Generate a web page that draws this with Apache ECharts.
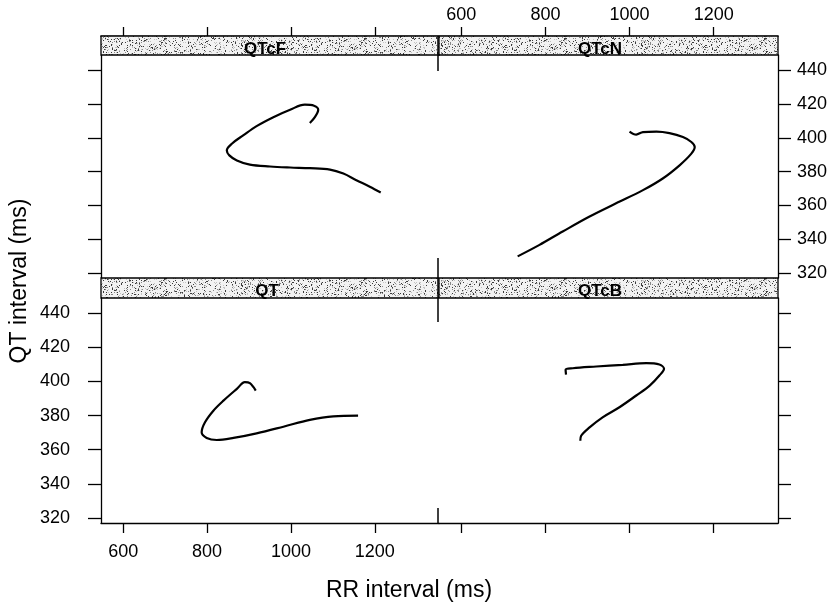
<!DOCTYPE html>
<html>
<head>
<meta charset="utf-8">
<script src="https://cdn.jsdelivr.net/npm/echarts@6/dist/echarts.min.js"></script>
<style>html,body{margin:0;padding:0;background:#fff}#c{width:832px;height:608px}</style>
</head>
<body>
<div id="c"></div>
<script>
// ---- data ----
const panelNames = ['QTcF', 'QTcN', 'QT', 'QTcB'];
const xTicks = [600, 800, 1000, 1200];
const yTicks = [320, 340, 360, 380, 400, 420, 440];

const qtcfRR = [1045, 1057, 1065, 1055, 1033, 998, 958, 918, 886, 859, 847, 853, 871, 902, 950, 998, 1045, 1093, 1125, 1156, 1188, 1214];
const qtcfQT = [408.8, 412.2, 416.6, 419.0, 419.6, 416.6, 412.2, 406.9, 401.4, 396.5, 392.5, 389.6, 386.6, 384.1, 383.0, 382.4, 382.0, 381.2, 378.8, 374.9, 371.0, 367.6];

const qtcnRR = [734, 786, 841, 905, 968, 1032, 1079, 1119, 1147, 1155, 1147, 1127, 1095, 1064, 1032, 1016, 1000];
const qtcnQT = [329.8, 336.6, 344.5, 353.4, 361.2, 369.0, 375.9, 383.7, 390.6, 394.5, 397.5, 400.4, 402.8, 403.7, 403.4, 401.9, 403.7];

const qtRR = [916, 902, 890, 871, 839, 815, 795, 787, 799, 823, 863, 918, 982, 1045, 1101, 1160];
const qtQT = [394.7, 399.0, 399.6, 395.7, 388.8, 382.9, 376.1, 370.2, 366.9, 365.7, 366.9, 369.6, 373.5, 377.5, 379.6, 380.0];

const qtcbRR = [849, 848, 865, 921, 984, 1040, 1071, 1082, 1071, 1048, 1016, 976, 936, 905, 885, 883];
const qtcbQT = [404.1, 406.9, 407.8, 408.8, 409.8, 410.8, 410.0, 407.5, 403.5, 397.6, 391.8, 384.9, 379.0, 373.1, 368.2, 365.3];

const xLabel = 'RR interval (ms)';
const yLabel = 'QT interval (ms)';

// ---- layout ----
const FONT = "'Liberation Sans', Arial, Helvetica, sans-serif";
const L = 101, M = 439, R = 778;
const stripH = 19;
const topStripY = 36, topPanelY = 55, topPanelH = 223;
const botStripY = 278, botPanelY = 298, botPanelH = 225;
const xMin = 547, xMax = 1353, yMin = 317, yMax = 449;

function zip(a, b) { return a.map((v, i) => [v, b[i]]); }

function stipple() {
  const c = document.createElement('canvas');
  c.width = 200; c.height = 24;
  const ctx = c.getContext('2d');
  ctx.fillStyle = '#f2f2f2';
  ctx.fillRect(0, 0, c.width, c.height);
  let s = 987654321;
  for (let y = 0; y < c.height; y++) {
    for (let x = 0; x < c.width; x++) {
      s = (s * 1103515245 + 12345) & 0x7fffffff;
      const r = s / 0x7fffffff;
      if (r < 0.20) {
        ctx.fillStyle = r < 0.07 ? '#3a3a3a' : (r < 0.13 ? '#888888' : '#c4c4c4');
        ctx.fillRect(x, y, 1, 1);
      }
    }
  }
  return c;
}
const pat = { image: stipple(), repeat: 'repeat' };

const grids = [
  { left: L, top: topPanelY, width: M - L, height: topPanelH },
  { left: M, top: topPanelY, width: R - M, height: topPanelH },
  { left: L, top: botPanelY, width: M - L, height: botPanelH },
  { left: M, top: botPanelY, width: R - M, height: botPanelH }
];

const lineStyle = { color: '#000', width: 1.3 };
const plain = function (v) { return String(v); };
function xAxis(i, pos, showLabel, offset, tickLen, margin) {
  return {
    type: 'value', gridIndex: i, position: pos, offset: offset,
    min: xMin, max: xMax,
    axisLine: { show: true, onZero: false, lineStyle: lineStyle },
    axisTick: { show: true, length: tickLen, customValues: xTicks, lineStyle: lineStyle },
    axisLabel: { show: showLabel, customValues: xTicks, formatter: plain, margin: margin, color: '#000', fontSize: 18, fontFamily: FONT },
    splitLine: { show: false }
  };
}
function yAxis(i, pos, showLabel, margin) {
  return {
    type: 'value', gridIndex: i, position: pos,
    min: yMin, max: yMax,
    axisLine: { show: true, onZero: false, lineStyle: lineStyle },
    axisTick: { show: true, length: 13, customValues: yTicks, lineStyle: lineStyle },
    axisLabel: { show: showLabel, customValues: yTicks, formatter: plain, margin: margin, color: '#000', fontSize: 18, fontFamily: FONT },
    splitLine: { show: false }
  };
}

const seriesData = [zip(qtcfRR, qtcfQT), zip(qtcnRR, qtcnQT), zip(qtRR, qtQT), zip(qtcbRR, qtcbQT)];

const stripTextX = [265, 600, 267, 600];
const graphics = [];
[topStripY, botStripY].forEach(function (sy) {
  graphics.push({ type: 'rect', shape: { x: L, y: sy, width: R - L, height: sy === topStripY ? stripH : 20 },
    style: { fill: pat, stroke: '#000', lineWidth: 1.3 }, z: 10 });
  graphics.push({ type: 'line', shape: { x1: M, y1: sy, x2: M, y2: sy + 20 }, style: { stroke: '#000', lineWidth: 1.3 }, z: 11 });
});
panelNames.forEach(function (n, i) {
  const sy = i < 2 ? topStripY : botStripY;
  graphics.push({ type: 'text', x: stripTextX[i], y: sy + 13, z: 12,
    style: { text: n, fill: '#000', font: 'bold 17px ' + FONT, textAlign: 'center', textVerticalAlign: 'middle' } });
});
// visible parts of the middle panel divider
[[36, 71], [258, 322], [508, 523]].forEach(function (s) {
  graphics.push({ type: 'line', shape: { x1: M - 1, y1: s[0], x2: M - 1, y2: s[1] }, style: { stroke: '#000', lineWidth: 1.5 }, z: 11 });
});
graphics.push({ type: 'text', x: 409, y: 591, style: { text: xLabel, fill: '#000', font: '23px ' + FONT, textAlign: 'center', textVerticalAlign: 'middle' } });
graphics.push({ type: 'text', x: 20, y: 281, rotation: Math.PI / 2, style: { text: yLabel, fill: '#000', font: '23px ' + FONT, textAlign: 'center', textVerticalAlign: 'middle' } });

const option = {
  animation: false,
  backgroundColor: '#fff',
  grid: grids,
  xAxis: [
    xAxis(0, 'top', false, stripH, 9, 12),
    xAxis(1, 'top', true, stripH, 9, 12),
    xAxis(2, 'bottom', true, 0, 10, 20),
    xAxis(3, 'bottom', false, 0, 10, 20)
  ],
  yAxis: [
    yAxis(0, 'left', false, 31),
    yAxis(1, 'right', true, 19),
    yAxis(2, 'left', true, 31),
    yAxis(3, 'right', false, 19)
  ],
  series: seriesData.map(function (d, i) {
    return { type: 'line', name: panelNames[i], xAxisIndex: i, yAxisIndex: i, data: d,
      smooth: 0.35, showSymbol: false, symbol: 'none', lineStyle: { color: '#000', width: 2.2 }, z: 5 };
  }),
  graphic: graphics
};

const chart = echarts.init(document.getElementById('c'), null, { renderer: 'canvas' });
chart.setOption(option);
</script>
</body>
</html>
